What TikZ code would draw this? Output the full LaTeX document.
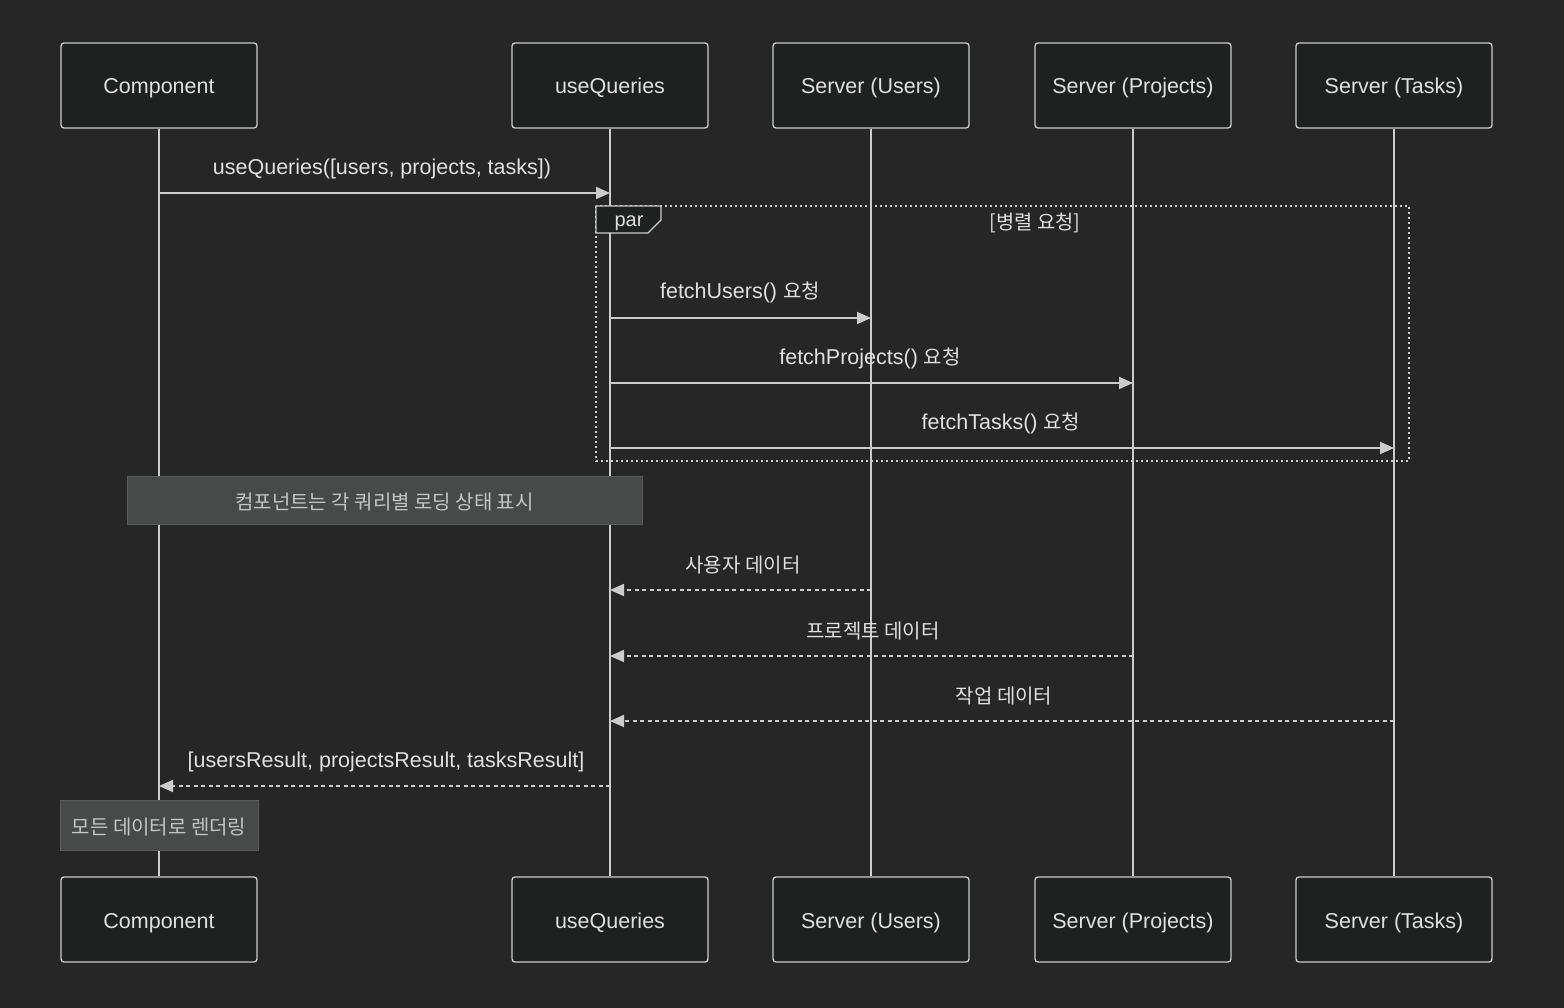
\documentclass[tikz,border=0pt]{standalone}
\usepackage{fontspec}
\setmainfont{Liberation Sans}
\newfontfamily\kr{Noto Sans CJK KR}
\usetikzlibrary{arrows.meta}
\definecolor{bg}{HTML}{262626}
\definecolor{boxfill}{HTML}{1F2020}
\definecolor{ln}{HTML}{CCCCCC}
\definecolor{txt}{HTML}{E0E0E0}
\definecolor{notefill}{HTML}{484A4A}
\definecolor{noteline}{HTML}{5A5C5C}
\definecolor{notetxt}{HTML}{C4C4C4}
\tikzset{
  actor/.style={draw=ln, line width=1.3pt, fill=boxfill, rounded corners=3pt, minimum width=196pt, minimum height=85pt, inner sep=0pt},
  alabel/.style={text=txt, font=\fontsize{21.5}{25}\selectfont, inner sep=0pt, anchor=base},
  life/.style={draw=ln, line width=2pt},
  msg/.style={draw=ln, line width=1.8pt, -{Triangle[length=14pt,width=12pt]}},
  reply/.style={msg, dash pattern=on 4pt off 3.5pt},
  lbl/.style={text=txt, font=\fontsize{21.5}{25}\selectfont, inner sep=0pt, yshift=-2pt},
  krl/.style={lbl, font=\kr\fontsize{20}{24}\selectfont},
  notebox/.style={draw=noteline, line width=1pt, fill=notefill, inner sep=0pt},
  frame/.style={draw=ln, line width=2pt, dash pattern=on 2pt off 3pt},
}
\newcommand{\kreq}{{\kr\fontsize{20}{24}\selectfont 요청}}
\begin{document}
\begin{tikzpicture}[x=1pt,y=-1pt]
\fill[bg] (0,0) rectangle (1564,1008);
\useasboundingbox (0,0) rectangle (1564,1008);
% participants
\foreach \n/\x/\t in {c/159/Component,u/610/useQueries,s/871/Server (Users),p/1133/Server (Projects),t/1394/Server (Tasks)}{
  \node[actor] (\n T) at (\x,85.5) {};
  \node[alabel] (\n Tl) at (\x,94) {\t};
  \node[actor] (\n B) at (\x,919.5) {};
  \node[alabel] (\n Bl) at (\x,928) {\t};
}
% lifelines
\foreach \a in {c,u,s,p,t}{\draw[life] (\a T.south) -- (\a B.north);}
% message 1
\node[lbl] (l1) at (382,167) {useQueries([users, projects, tasks])};
\draw[msg] (cT |- 0,193) -- (uT |- 0,193);
% par frame
\draw[frame] (596,206) rectangle (1409,461);
\draw[draw=ln, line width=1.3pt, fill=boxfill] (596,206) -- (661,206) -- (661,220) -- (648,233) -- (596,233) -- cycle;
\node[lbl, font=\fontsize{20}{24}\selectfont] (par) at (629,221) {par};
\node[krl, font=\kr\fontsize{19.8}{24}\selectfont] (cond) at (1035,221) {[병렬 요청]};
% requests
\node[lbl] (l2) at (740,290) {fetchUsers() \kreq};
\draw[msg] (uT |- 0,318) -- (sT |- 0,318);
\node[lbl] (l3) at (870,356) {fetchProjects() \kreq};
\draw[msg] (uT |- 0,383) -- (pT |- 0,383);
\node[lbl] (l4) at (1001,421) {fetchTasks() \kreq};
\draw[msg] (uT |- 0,448) -- (tT |- 0,448);
% note 1
\node[notebox, minimum width=515pt, minimum height=48pt] (n1) at (384.5,500) {};
\node[krl, text=notetxt] (n1l) at (384.5,500) {컴포넌트는 각 쿼리별 로딩 상태 표시};
% replies
\node[krl] (r1) at (743,563) {사용자 데이터};
\draw[reply] (sT |- 0,590) -- (uT |- 0,590);
\node[krl] (r2) at (873,629) {프로젝트 데이터};
\draw[reply] (pT |- 0,656) -- (uT |- 0,656);
\node[krl] (r3) at (1004,694) {작업 데이터};
\draw[reply] (tT |- 0,721) -- (uT |- 0,721);
\node[lbl] (r4) at (386,760) {[usersResult, projectsResult, tasksResult]};
\draw[reply] (uT |- 0,786) -- (cT |- 0,786);
% note 2
\node[notebox, minimum width=198pt, minimum height=50pt] (n2) at (159,825) {};
\node[krl, text=notetxt] (n2l) at (159,825) {모든 데이터로 렌더링};
\end{tikzpicture}
\end{document}
